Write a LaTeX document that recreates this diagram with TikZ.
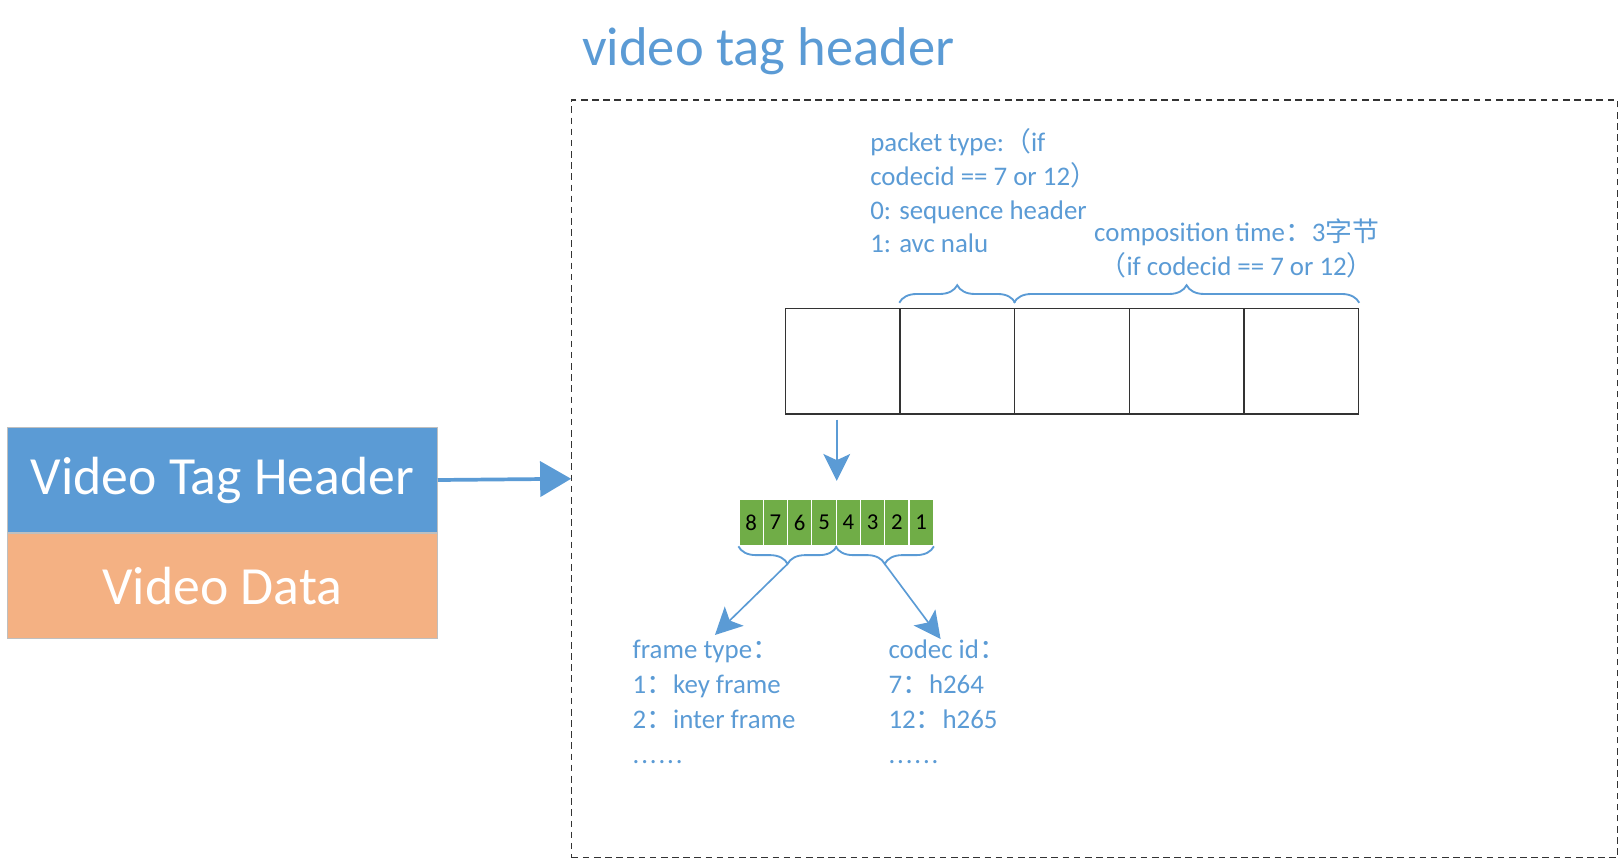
\documentclass[tikz,border=0pt]{standalone}
\usepackage{fontspec}
\setmainfont{Carlito}
\newfontfamily\cjk{Noto Sans CJK SC}
\usetikzlibrary{arrows.meta,positioning,calc,decorations.pathreplacing}
\definecolor{tagBlue}{RGB}{91,155,213}
\definecolor{dataOrange}{RGB}{244,177,131}
\definecolor{bitGreen}{RGB}{112,173,71}
\newcommand{\zh}[1]{{\cjk #1}}
\newcommand{\dotrow}{.\kern0.9pt.\kern0.9pt.\kern0.9pt.\kern0.9pt.\kern0.9pt.}

\tikzset{
  tagbox/.style={rectangle, draw=black!25, minimum width=208.1pt, minimum height=51pt, inner sep=0pt, text=white, font=\fontsize{26}{30}\selectfont},
  bytebox/.style={rectangle, draw=black!80, line width=0.6pt, minimum width=55.5pt, minimum height=51.15pt, inner sep=0pt},
  bitbox/.style={rectangle, draw=white, line width=0.6pt, fill=bitGreen, minimum width=11.75pt, minimum height=22.5pt, inner sep=0pt, font=\fontsize{11}{13}\selectfont},
  lbl/.style={text=tagBlue, font=\fontsize{13}{16.3}\selectfont, align=left, inner sep=0pt},
  brc/.style={draw=tagBlue, line width=0.9pt, decorate, decoration={brace, amplitude=8.5pt, raise=#1}},
  brc/.default=2.4pt,
  arr/.style={draw=tagBlue, line width=0.8pt, -{Stealth[length=13pt,width=13pt,inset=3pt]}},
}

\begin{document}
\begin{tikzpicture}[x=0.5pt,y=-0.5pt]
\useasboundingbox (0,0) rectangle (1568,834);

% flv video tag
\node[tagbox, fill=tagBlue] (hdr) at (215.2,464.6) {Video Tag Header};
\node[tagbox, fill=dataOrange, below=0pt of hdr] (data) {Video Data};

% header detail
\node[draw=black!80, dash pattern=on 3.2pt off 2.2pt, line width=0.5pt, minimum width=506.35pt, minimum height=366.6pt, inner sep=0pt] (frame) at (1059.65,463.4) {};
\node[anchor=base west, text=tagBlue, font=\fontsize{26.4}{30}\selectfont, inner sep=0pt] (title) at (563,63) {video tag header};
\draw[tagBlue, line width=1.8pt, -{Triangle[length=15pt,width=17pt]}] (hdr.east) -- (frame.west);

% five bytes
\foreach \i in {1,...,5}
  \node[bytebox] (b\i) at ({760+111*(\i-1)+55.5},349.6) {};
\draw[brc] (b2.north west) -- (b2.north east);
\draw[brc] (b3.north west) -- (b5.north east);
\node[lbl, anchor=base west] (ptype) at (842,244.6) {packet type:\zh{（}if\\codecid == 7 or 12\zh{）}\\0: sequence header\\1: avc nalu};
\node[lbl, align=center, anchor=base] (ctime) at (1197,266.2) {composition time\zh{：}3\zh{字节}\\\zh{（}if codecid == 7 or 12\zh{）}};

% bits of the first byte
\foreach \b [count=\i] in {8,...,1}
  \node[bitbox] (bit\b) at ({715.3+23.5*(\i-0.5)},505.7) {\b};
\draw[arr, shorten <=2.4pt, shorten >=8.6pt] (b1.south -| bit5.east) -- (bit5.north east);
\draw[brc=0pt] (bit5.south east) -- (bit8.south west);
\draw[brc=0pt] (bit1.south east) -- (bit4.south west);
\coordinate (ftip) at ($(bit8.south west)!0.5!(bit5.south east)+(0,-8.5pt)$);
\coordinate (ctip) at ($(bit4.south west)!0.5!(bit1.south east)+(0,-8.5pt)$);
\coordinate (fend) at (692,614.6);
\coordinate (cend) at (910.4,618.5);
\draw[arr] (ftip) -- (fend);
\draw[arr] (ctip) -- (cend);

\node[lbl, anchor=base west, font=\fontsize{13}{17}\selectfont] (ftype) at (612,739) {frame type\zh{：}\\1\zh{：}key frame\\2\zh{：}inter frame\\\dotrow};
\node[lbl, anchor=base west, font=\fontsize{13}{17}\selectfont] (cid) at (859.6,739) {codec id\zh{：}\\7\zh{：}h264\\12\zh{：}h265\\\dotrow};
\end{tikzpicture}
\end{document}
